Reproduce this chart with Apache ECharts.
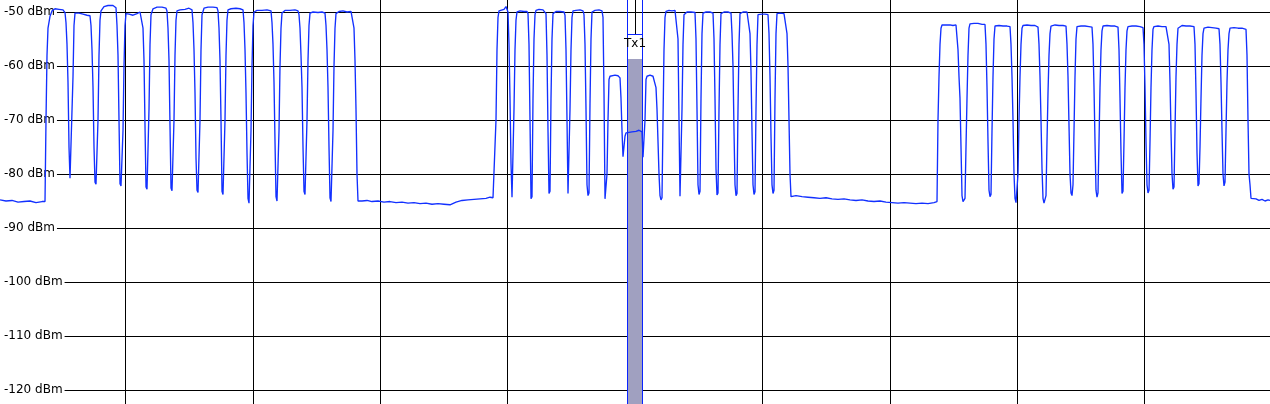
<!DOCTYPE html>
<html>
<head>
<meta charset="utf-8">
<script src="https://cdn.jsdelivr.net/npm/echarts@6/dist/echarts.min.js"></script>
<style>
html,body{margin:0;padding:0;background:#fff;}
#chart{width:1270px;height:404px;}
</style>
</head>
<body>
<div id="chart"></div>
<script>
// ---- data (x = sweep position, y = level in dBm) ----
const levelUnit = 'dBm';
const xRange = [-2, 1272];          // sweep span, 10 divisions
const xDivision = 127.4;
const yRange = [-130, -40];
const yStep = 10;

// Tx1 channel marker
const txLabel = 'Tx1';
const txStart = 627;
const txEnd = 642;
const txPower = -58.7;
const txLimit = -54.1;

const trace = [
[0,-84.8],[6,-85.0],[12,-84.9],[18,-85.2],[24,-85.1],[30,-85.0],[36,-85.3],[42,-85.1],[45,-85.1],
[46,-70],[47,-58],[48,-53],[50,-50.8],[52,-49.8],
[55,-49.4],[59,-49.5],[63,-49.6],[65,-50.1],
[66,-52],[67,-56],[68,-63],[69,-75],[70,-80.8],[71,-81.1],[72,-80.9],[73,-62],[74,-52.5],[75,-50.2],
[79,-50.2],[83,-50.4],[87,-50.6],[90,-50.7],
[91,-52.5],[92,-57],[93,-64],[94,-75],[95,-81.5],[96,-81.9],[97,-81.7],[98,-70],[99,-58],[100,-51.5],[101,-49.8],
[104,-49.0],[108,-48.8],[113,-48.8],[116,-49.2],
[117,-52.5],[118,-58],[119,-70],[120,-81.8],[121,-82.2],[122,-82.0],[123,-72],[124,-60],[125,-52.5],[126,-50.3],
[129,-50.4],[133,-50.6],[137,-50.3],[140,-50.0],[142,-50.3],
[143,-53],[144,-59],[145,-71],[146,-82.4],[147,-82.8],[148,-82.6],[149,-68],[150,-56],[151,-50.5],
[153,-49.4],[157,-49.1],[162,-49.1],[166,-49.3],[167,-49.8],
[168,-53],[169,-59],[170,-71],[171,-82.6],[172,-83.1],[173,-82.9],[174,-70],[175,-58],[176,-51.5],[177,-49.8],
[180,-49.6],[185,-49.5],[189,-49.3],[192,-49.6],
[193,-52],[194,-57],[195,-65],[196,-77],[197,-83.0],[198,-83.4],[199,-83.2],[200,-70],[201,-57],[202,-50.5],
[204,-49.3],[208,-49.1],[213,-49.1],[217,-49.2],[218,-49.8],
[219,-53],[220,-59],[221,-70],[222,-83.2],[223,-83.8],[224,-83.6],[225,-70],[226,-58],[227,-51.5],[228,-49.6],
[231,-49.4],[236,-49.3],[240,-49.4],[243,-49.6],
[244,-52],[245,-57],[246,-65],[247,-76],[248,-84.5],[249,-85.4],[250,-85.2],[251,-72],[252,-60],[253,-52.5],[254,-50],
[257,-49.7],[262,-49.7],[267,-49.6],[271,-49.8],
[272,-52],[273,-56],[274,-63],[275,-74],[276,-84.2],[277,-85],[278,-84.8],[279,-72],[280,-60],[281,-53],[282,-50.2],
[285,-49.7],[290,-49.7],[295,-49.6],[298,-49.8],
[299,-50.5],[300,-53],[301,-58],[302,-64],[303,-75],[304,-83.2],[305,-83.8],[306,-83.6],[307,-70],[308,-59],[309,-52.5],[310,-50.2],
[313,-50.0],[318,-50.1],[322,-50.0],[325,-50.2],
[326,-52.5],[327,-57],[328,-64],[329,-75],[330,-84.4],[331,-85.1],[332,-84.9],[333,-72],[334,-60],[335,-53],[336,-50.3],
[339,-49.9],[343,-49.8],[347,-50.0],[351,-49.9],[353,-50.2],
[354,-53],[355,-59],[356,-68],[357,-80],[358,-85],
[362,-85.0],[367,-84.9],[372,-85.1],[378,-85.0],[384,-85.2],[390,-85.1],[396,-85.3],[402,-85.2],[408,-85.4],[414,-85.3],
[420,-85.5],[426,-85.4],[432,-85.6],[438,-85.5],[444,-85.6],[450,-85.7],[456,-85.2],[462,-84.9],[468,-84.8],[474,-84.7],
[480,-84.6],[486,-84.5],[490,-84.3],[493,-84.4],[494,-84.6],
[495,-84.2],[496,-70],[497,-57],[498,-51],[499,-49.8],
[501,-49.6],[504,-49.5],[506,-49.0],[507,-49.3],[508,-50],
[509,-56],[510,-66],[511,-78],[512,-84.3],[513,-84.1],[514,-68],[515,-57],[516,-51.5],[517,-50],
[520,-49.8],[524,-49.9],[527,-49.9],[528,-50.3],
[529,-56],[530,-70],[531,-84.6],[532,-84.2],[533,-66],[534,-55],[535,-50.5],[536,-49.7],
[539,-49.5],[543,-49.6],[545,-49.7],[546,-50.3],
[547,-58],[548,-72],[549,-83.6],[550,-83.2],[551,-66],[552,-55],[553,-50.3],
[556,-49.9],[560,-49.9],[564,-50.0],[565,-50.6],
[566,-57],[567,-70],[568,-83.6],[569,-83.3],[570,-68],[571,-57],[572,-51],[573,-49.8],
[576,-49.7],[580,-49.6],[583,-49.8],[584,-50.5],
[585,-56],[586,-68],[587,-82],[588,-84],[589,-83.5],[590,-67],[591,-55],[592,-50],
[595,-49.7],[599,-49.6],[602,-49.8],[603,-51],
[604,-65],[605,-84.6],[606,-84.3],[607,-80],[608,-70],[609,-62.5],
[610,-61.9],[612,-61.7],[615,-61.7],[618,-61.8],[620,-62.2],
[621,-66],[622,-72],[623,-76.8],[624,-76.5],[625,-73],[626,-72.4],[627,-72.3],
[629,-72.3],[632,-72.2],[636,-72.1],[639,-71.9],[640,-72.2],[642,-72.2],
[643,-76.9],[644,-76.8],[645,-70],[646,-62.5],[647,-61.9],
[650,-61.7],[653,-61.9],[655,-62.0],
[656,-64],[657,-68],[658,-74],[659,-80],[660,-84],[661,-84.8],[662,-84.4],[663,-70],[664,-57],[665,-51],[666,-49.9],
[669,-49.7],[672,-49.8],[675,-49.7],[677,-50.0],
[678,-55],[679,-70],[680,-84.1],[681,-83.8],[682,-68],[683,-56],[684,-50.5],
[687,-50.0],[691,-50.0],[695,-50.1],
[696,-55],[697,-68],[698,-82],[699,-83.8],[700,-83.2],[701,-66],[702,-54],[703,-50.2],
[706,-50.0],[710,-50.0],[713,-50.2],
[714,-55],[715,-66],[716,-79],[717,-83.9],[718,-83.5],[719,-68],[720,-56],[721,-50.3],
[724,-50.0],[728,-50.0],[731,-50.2],
[732,-54],[733,-60],[734,-72],[735,-82],[736,-84],[737,-83.6],[738,-68],[739,-56],[740,-50.3],
[743,-50.0],[747,-50.0],[749,-50.3],
[750,-54],[751,-61],[752,-72],[753,-82],[754,-83.8],[755,-83.3],[756,-68],[757,-56],[758,-50.5],
[759,-50.2],[762,-50.4],[765,-50.4],[768,-50.5],
[769,-54],[770,-62],[771,-73],[772,-82],[773,-83.6],[774,-83],[775,-66],[776,-54],[777,-50.3],
[780,-50.2],[784,-50.3],[786,-50.5],
[787,-54],[788,-60],[789,-70],[790,-80],[791,-84.2],
[796,-84.0],[802,-84.2],[808,-84.3],[814,-84.4],[820,-84.5],[826,-84.4],[832,-84.6],[838,-84.7],[844,-84.6],[850,-84.8],
[856,-84.9],[862,-84.8],[868,-85.0],[874,-85.1],[880,-85.0],[886,-85.2],[892,-85.3],[898,-85.4],[904,-85.3],[910,-85.4],
[916,-85.5],[922,-85.4],[928,-85.5],[934,-85.3],[937,-85.1],
[938,-70],[939,-62],[940,-56],[941,-53],[942,-52.4],
[946,-52.4],[950,-52.4],[953,-52.5],[956,-52.4],[957,-52.7],
[958,-57],[959,-62],[960,-66],[961,-75],[962,-84],[963,-85.1],[964,-85.0],[965,-84.5],[966,-75],[967,-66],[968,-58],[969,-53],[970,-52.2],
[974,-52.1],[978,-52.1],[982,-52.3],[985,-52.3],
[986,-56],[987,-64],[988,-74],[989,-83],[990,-84.2],[991,-83.8],[992,-72],[993,-62],[994,-55],[995,-52.6],
[999,-52.5],[1003,-52.6],[1007,-52.6],[1010,-52.7],
[1011,-56],[1012,-62],[1013,-70],[1014,-80],[1015,-84.5],[1016,-85.3],[1017,-85.2],[1018,-80],[1019,-70],[1020,-62],[1021,-56],[1022,-53],[1023,-52.5],
[1027,-52.4],[1031,-52.5],[1035,-52.5],[1038,-52.8],
[1039,-56],[1040,-62],[1041,-70],[1042,-79],[1043,-84.5],[1044,-85.4],[1045,-85.3],[1046,-84],[1047,-74],[1048,-65],[1049,-58],[1050,-54],[1051,-52.6],
[1055,-52.4],[1059,-52.5],[1063,-52.5],[1066,-52.6],
[1067,-56],[1068,-62],[1069,-71],[1070,-80],[1071,-83.5],[1072,-84],[1073,-82],[1074,-72],[1075,-62],[1076,-55],[1077,-52.7],
[1081,-52.6],[1085,-52.6],[1089,-52.7],[1092,-52.8],
[1093,-56],[1094,-64],[1095,-74],[1096,-83],[1097,-84.3],[1098,-83.5],[1099,-74],[1100,-64],[1101,-57],[1102,-53.5],[1103,-52.6],
[1107,-52.5],[1111,-52.6],[1115,-52.6],[1118,-52.8],
[1119,-57],[1120,-66],[1121,-76],[1122,-83.6],[1123,-83.2],[1124,-74],[1125,-64],[1126,-57],[1127,-53.5],[1128,-52.7],
[1132,-52.6],[1136,-52.6],[1140,-52.7],[1143,-52.9],
[1144,-56],[1145,-64],[1146,-74],[1147,-82],[1148,-83.5],[1149,-83],[1150,-74],[1151,-64],[1152,-57],[1153,-53.2],[1154,-52.7],
[1158,-52.6],[1162,-52.7],[1166,-52.7],[1168,-52.9],
[1169,-56],[1170,-63],[1171,-72],[1172,-80],[1173,-82.8],[1174,-82.4],[1175,-72],[1176,-62],[1177,-56],[1178,-53],
[1182,-52.5],[1186,-52.6],[1190,-52.6],[1194,-52.7],
[1195,-56],[1196,-65],[1197,-76],[1198,-82.2],[1199,-81.8],[1200,-75],[1201,-66],[1202,-58],[1203,-54],[1204,-53],
[1208,-52.8],[1212,-52.9],[1216,-53.0],[1219,-53.1],
[1220,-56],[1221,-63],[1222,-72],[1223,-80],[1224,-82.2],[1225,-81.5],[1226,-72],[1227,-63],[1228,-57],[1229,-54],[1230,-53],
[1234,-52.9],[1238,-53.0],[1242,-53.0],[1246,-53.2],
[1247,-58],[1248,-70],[1249,-80],[1250,-82],[1251,-84.5],[1252,-84.8],
[1256,-84.6],[1259,-84.9],[1262,-84.7],[1265,-85.0],[1268,-84.8],[1270,-84.9]
];

const chart = echarts.init(document.getElementById('chart'), null, {renderer: 'canvas'});
const crisp = v => Math.round(v - 0.5) + 0.5;

chart.setOption({
  animation: false,
  backgroundColor: '#ffffff',
  grid: {left: -2, right: -2, top: -42, bottom: -40, containLabel: false, outerBoundsMode: 'none', show: false},
  xAxis: {
    type: 'value', min: xRange[0], max: xRange[1], interval: xDivision,
    axisLine: {show: false}, axisTick: {show: false}, axisLabel: {show: false},
    splitLine: {show: true, lineStyle: {color: '#000', width: 1}}
  },
  yAxis: {
    type: 'value', min: yRange[0], max: yRange[1], interval: yStep,
    axisLine: {show: false}, axisTick: {show: false},
    axisLabel: {
      inside: true, margin: 0,
      formatter: v => v + ' ' + levelUnit,
      fontFamily: 'DejaVu Sans', fontSize: 12, color: '#000',
      backgroundColor: '#fff', padding: [1, 2, 1, 6]
    },
    splitLine: {show: true, lineStyle: {color: '#000', width: 1}}
  },
  series: [
    {
      type: 'custom', z: 1, silent: true,
      data: [[txStart, txEnd, txPower, txLimit]],
      renderItem: function (params, api) {
        const a = api.coord([api.value(0), api.value(3)]);
        const b = api.coord([api.value(1), api.value(2)]);
        const H = api.getHeight();
        const xl = crisp(a[0]), xr = crisp(b[0]);
        const yl = crisp(a[1]), yp = Math.round(b[1]);
        return {
          type: 'group',
          children: [
            {type: 'rect', shape: {x: xl, y: yl, width: xr - xl, height: yp - yl}, style: {fill: '#ffffff'}},
            {type: 'rect', shape: {x: xl, y: yp, width: xr - xl, height: H - yp}, style: {fill: '#a0a0c0'}},
            {type: 'line', shape: {x1: xl, y1: 0, x2: xl, y2: H}, style: {stroke: '#0a24ff', lineWidth: 1}},
            {type: 'line', shape: {x1: xr, y1: 0, x2: xr, y2: H}, style: {stroke: '#0a24ff', lineWidth: 1}},
            {type: 'line', shape: {x1: xl, y1: yl, x2: xr, y2: yl}, style: {stroke: '#0a24ff', lineWidth: 1}},
            {type: 'text', style: {text: txLabel, x: (xl + xr) / 2, y: yl + 3, align: 'center', verticalAlign: 'top',
              font: '12px "DejaVu Sans"', fill: '#000'}}
          ]
        };
      }
    },
    {
      type: 'line', z: 3, data: trace, showSymbol: false, symbol: 'none', sampling: null,
      lineStyle: {color: '#1230ff', width: 1.35}, silent: true, clip: false
    }
  ]
});
</script>
</body>
</html>
